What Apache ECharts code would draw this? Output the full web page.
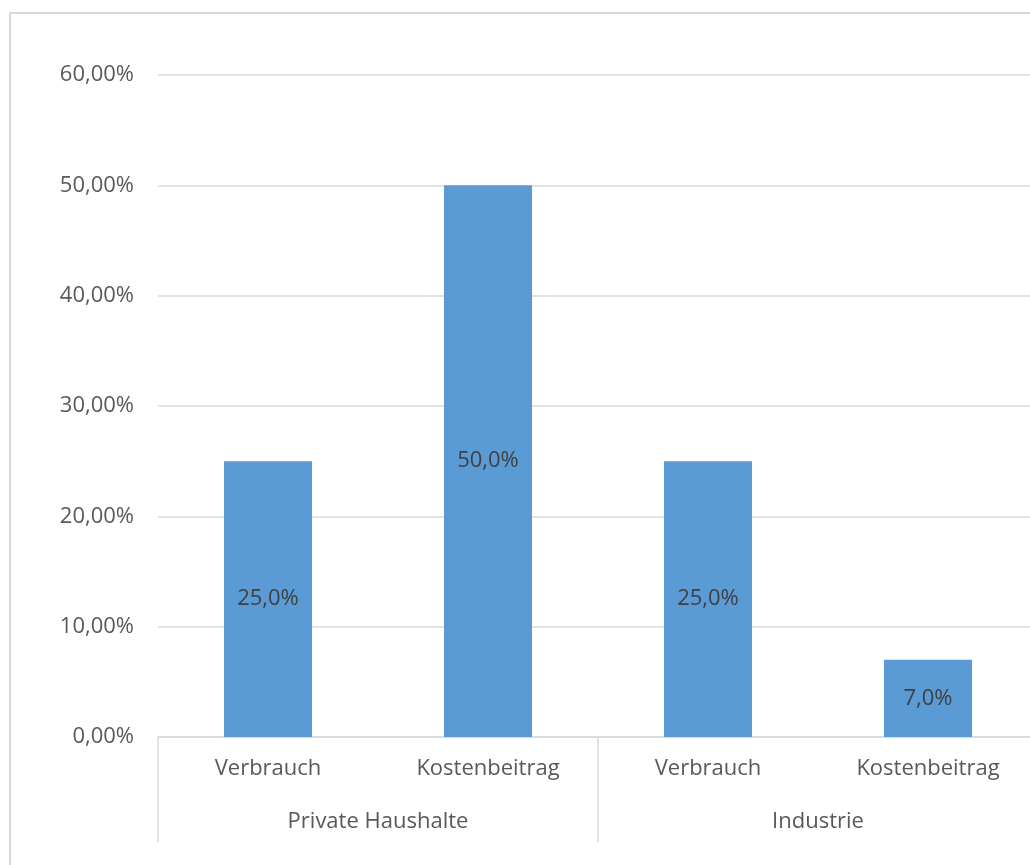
<!DOCTYPE html>
<html>
<head>
<meta charset="utf-8">
<script src="https://cdn.jsdelivr.net/npm/echarts@6/dist/echarts.min.js"></script>
<style>
  html, body { margin: 0; padding: 0; background: #fff; }
  #chart { width: 1030px; height: 865px; }
</style>
</head>
<body>
<div id="chart"></div>
<script>
const categories = ['Verbrauch', 'Kostenbeitrag', 'Verbrauch', 'Kostenbeitrag'];
const groups = ['Private Haushalte', 'Industrie'];
const values = [25.0, 50.0, 25.0, 7.0];

const font = 'Open Sans';
const fs = 22;
const chart = echarts.init(document.getElementById('chart'));
chart.setOption({
  animation: false,
  textStyle: { fontFamily: font },
  graphic: [
    {
      type: 'polyline',
      shape: { points: [[10, 865], [10, 13], [1030, 13]] },
      style: { stroke: '#d9d9d9', lineWidth: 2, fill: null }
    }
  ],
  grid: { left: 158, top: 75, width: 880, height: 662, outerBoundsMode: 'none' },
  xAxis: [
    {
      type: 'category',
      data: categories,
      axisLine: { lineStyle: { color: '#d9d9d9', width: 1.5 } },
      axisTick: { show: false },
      axisLabel: { color: '#595959', fontSize: fs, fontFamily: font, margin: 21, hideOverlap: false, interval: 0 }
    },
    {
      type: 'category',
      data: groups,
      position: 'bottom',
      axisLine: { show: false },
      axisTick: { show: true, length: 105, lineStyle: { color: '#d9d9d9', width: 1.5 } },
      axisLabel: { color: '#595959', fontSize: fs, fontFamily: font, margin: 74 }
    }
  ],
  yAxis: {
    type: 'value',
    min: 0,
    max: 60,
    interval: 10,
    axisLine: { show: false },
    axisTick: { show: false },
    splitLine: { lineStyle: { color: '#d9d9d9', width: 1.5 } },
    axisLabel: {
      color: '#595959', fontSize: fs, fontFamily: font, margin: 24,
      formatter: v => v.toFixed(2).replace('.', ',') + '%'
    }
  },
  series: [
    {
      type: 'bar',
      xAxisIndex: 0,
      data: values,
      barWidth: 88,
      itemStyle: { color: '#5b9bd5' },
      label: {
        show: true,
        position: 'inside',
        color: '#404040',
        fontSize: fs,
        fontFamily: font,
        formatter: p => p.value.toFixed(1).replace('.', ',') + '%'
      }
    }
  ]
});
</script>
</body>
</html>
